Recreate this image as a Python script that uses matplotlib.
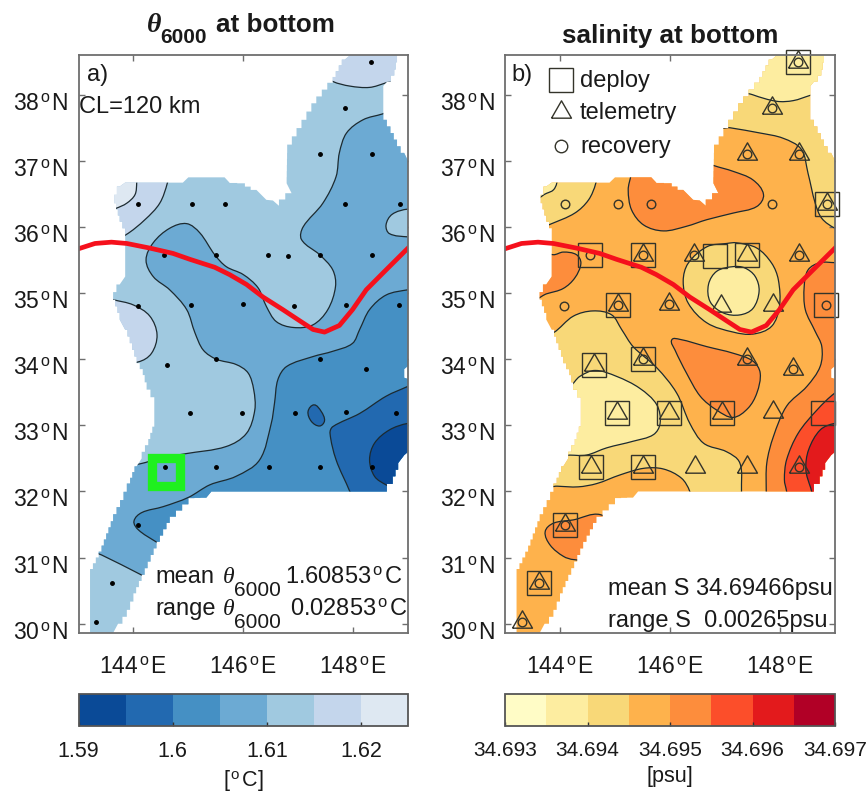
import matplotlib
matplotlib.use("Agg")
import matplotlib.pyplot as plt
import numpy as np
from matplotlib.cm import ScalarMappable
from matplotlib.colors import BoundaryNorm, ListedColormap
from matplotlib.patches import PathPatch, Polygon
from matplotlib.path import Path
from matplotlib.transforms import ScaledTranslation

plt.rcParams["font.family"] = ["Liberation Sans", "DejaVu Sans"]
plt.rcParams["mathtext.fontset"] = "custom"
plt.rcParams["mathtext.rm"] = "Liberation Sans"
plt.rcParams["mathtext.bf"] = "Liberation Sans:bold"
plt.rcParams["mathtext.it"] = "Liberation Serif:italic"

LON_TICKS = [144, 146, 148]
LAT_TICKS = [30, 31, 32, 33, 34, 35, 36, 37, 38]

THETA_LEVELS = [1.59, 1.595, 1.6, 1.605, 1.61, 1.615, 1.62, 1.625]
THETA_TICKS = [1.59, 1.6, 1.61, 1.62]
THETA_TICK_LABELS = ["1.59", "1.6", "1.61", "1.62"]
THETA_COLORS = ["#0a4a97", "#2269b0", "#4590c4", "#6caad3", "#a0c9e0", "#c4d6ec", "#dee8f2"]

SALT_LEVELS = [34.693, 34.6935, 34.694, 34.6945, 34.695, 34.6955, 34.696, 34.6965, 34.697]
SALT_TICKS = [34.693, 34.694, 34.695, 34.696, 34.697]
SALT_TICK_LABELS = ["34.693", "34.694", "34.695", "34.696", "34.697"]
SALT_COLORS = ["#fffcc6", "#fdeda0", "#f8d878", "#feb24c", "#fd8d3c", "#fc4e2a", "#e31a1c", "#b10026"]

FOOTPRINT = [
    (147.95, 38.6), (148.8, 38.6), (148.75, 38.38), (148.62, 38.2), (148.55, 38.13),
    (148.55, 37.72), (148.68, 37.52), (148.8, 37.32), (148.93, 37.12), (149, 37.0),
    (149, 33.9), (148.93, 33.85), (148.93, 33.72), (149, 33.7), (149, 32.6),
    (148.93, 32.55), (148.82, 32.43), (148.72, 32.23), (148.51, 32.0), (145.42, 32.0),
    (145.33, 31.91), (145.0, 31.9), (144.66, 31.62), (144.42, 31.24), (144.15, 30.74),
    (144.0, 30.46), (143.88, 30.21), (143.72, 30.0), (143.63, 29.86), (143.21, 29.86),
    (143.21, 30.74), (143.42, 31.09), (143.63, 31.55), (143.82, 31.87), (143.94, 32.12),
    (144.06, 32.38), (144.15, 32.5), (144.27, 32.7), (144.38, 32.98), (144.38, 33.31),
    (144.24, 33.54), (144.17, 33.76), (144.06, 33.94), (143.85, 34.445), (143.75, 34.6),
    (143.63, 34.9), (143.75, 35.13), (143.85, 35.25), (143.85, 35.88), (143.75, 36.08),
    (143.65, 36.36), (143.75, 36.61), (143.85, 36.67), (144.9, 36.67), (145.0, 36.75),
    (145.66, 36.75), (145.75, 36.67), (146.03, 36.66), (146.24, 36.56), (146.42, 36.41),
    (146.54, 36.4), (146.65, 36.32), (146.88, 36.51), (146.79, 36.66), (146.8, 37.12),
    (146.97, 37.37), (147.15, 37.62), (147.33, 37.87), (147.63, 38.18), (147.85, 38.53),
]

# float track
TRACK_LON = [143.0, 143.3, 143.6, 143.88, 144.3, 144.72, 145.03, 145.48, 145.75, 146.06,
             146.36, 146.72, 147.03, 147.27, 147.48, 147.75, 147.99, 148.24, 148.6, 149.0]
TRACK_LAT = [35.67, 35.75, 35.77, 35.75, 35.68, 35.6, 35.51, 35.39, 35.28, 35.13,
             34.94, 34.75, 34.58, 34.45, 34.41, 34.51, 34.75, 35.05, 35.35, 35.68]

STATIONS = [
    (148.33, 38.50), (147.86, 37.80), (147.40, 37.10), (148.34, 37.10), (144.09, 36.35),
    (145.06, 36.35), (145.66, 36.35), (147.86, 36.34), (148.85, 36.34), (144.55, 35.57),
    (145.51, 35.58), (146.445, 35.58), (146.81, 35.56), (147.40, 35.58), (148.35, 35.58),
    (144.08, 34.81), (145.05, 34.82), (145.99, 34.83), (146.92, 34.81), (147.87, 34.82),
    (148.83, 34.82), (144.62, 33.92), (145.51, 34.0), (147.40, 34.0), (148.24, 33.85),
    (145.03, 33.19), (145.98, 33.19), (146.94, 33.19), (147.87, 33.2), (148.78, 33.19),
    (144.57, 32.37), (145.51, 32.37), (146.46, 32.37), (147.40, 32.37), (148.34, 32.37),
    (144.09, 31.49), (143.61, 30.61), (143.31, 30.02),
]
DEPLOY = [0, 8, 9, 10, 12, 13, 16, 20, 21, 22, 25, 26, 27, 29, 30, 31, 35, 36]
TELEMETRY = [0, 1, 2, 3, 8, 10, 11, 13, 14, 16, 17, 18, 19, 21, 22, 23, 24, 25, 26, 27,
             28, 30, 31, 32, 33, 34, 35, 36, 37]
RECOVERY = [0, 1, 2, 3, 4, 5, 6, 7, 8, 9, 10, 11, 14, 15, 16, 17, 20, 22, 23, 24, 34, 35, 36, 37]
SELECTED_MOORING = (144.6, 32.295)

# theta contour bands, index into THETA_COLORS
THETA_BASE = 4
THETA_BANDS = [
    (5, [(147.63, 38.2), (147.94, 38.13), (148.3, 38.11), (148.6, 38.18), (149.2, 38.35),
         (149.2, 38.9), (147.5, 38.9), (147.2, 38.4)]),
    (5, [(144.66, 36.9), (144.62, 36.67), (144.48, 36.36), (144.21, 36.11), (143.86, 35.88),
         (143.4, 35.7), (143.4, 36.9)]),
    (5, [(143.4, 34.95), (143.63, 34.9), (144.0, 34.82), (144.3, 34.65), (144.43, 34.37),
         (144.33, 34.09), (144.09, 33.96), (143.4, 33.9)]),
    (6, [(144.06, 36.9), (144.06, 36.67), (144.03, 36.49), (143.88, 36.36), (143.68, 36.28),
         (143.4, 36.2), (143.4, 36.9)]),
    (3, [(148.66, 37.75), (148.54, 37.71), (148.18, 37.62), (147.88, 37.42), (147.75, 37.12),
         (147.69, 36.76), (147.45, 36.36), (147.09, 36.0), (147.06, 35.81), (147.39, 35.58),
         (147.63, 35.35), (147.68, 35.10), (147.54, 34.75), (147.27, 34.52), (146.91, 34.48),
         (146.6, 34.57), (146.42, 34.80), (146.27, 35.08), (146.0, 35.28), (145.69, 35.40),
         (145.48, 35.58), (145.21, 35.91), (144.97, 36.05), (144.66, 35.98), (144.36, 35.76),
         (144.23, 35.5), (144.36, 35.25), (144.66, 35.05), (144.97, 34.75), (145.12, 34.4),
         (145.27, 34.14), (145.51, 34.0), (145.87, 33.92), (146.09, 33.79), (146.19, 33.54),
         (146.21, 33.23), (146.06, 32.88), (145.69, 32.68), (144.94, 32.57), (144.48, 32.5),
         (144.06, 32.41), (143.57, 32.41), (143.09, 31.92), (143.09, 31.17), (143.42, 31.04),
         (144.14, 30.74), (144.66, 30.5), (149.5, 30.5), (149.5, 37.9)]),
    (4, [(149.3, 36.25), (149.0, 36.27), (148.71, 36.19), (148.6, 36.03), (148.66, 35.9),
         (149.0, 35.85), (149.3, 35.85)]),
    (2, [(149.27, 35.07), (149.0, 35.05), (148.6, 34.97), (148.3, 34.75), (148.12, 34.45),
         (147.99, 34.24), (147.63, 34.12), (147.27, 34.04), (146.79, 33.89), (146.63, 33.69),
         (146.57, 33.34), (146.51, 33.03), (146.3, 32.48), (145.87, 32.23), (145.39, 32.1),
         (145.0, 31.91), (144.54, 31.77), (144.15, 31.68), (144.01, 31.55), (144.09, 31.42),
         (144.41, 31.24), (144.66, 31.12), (149.5, 31.12), (149.5, 35.07)]),
    (1, [(149.27, 33.69), (149.0, 33.59), (148.6, 33.44), (148.12, 33.18), (147.63, 32.98),
         (147.58, 32.88), (147.69, 32.48), (147.94, 32.0), (148.06, 31.72), (149.5, 31.72),
         (149.5, 33.69)]),
    (1, [(147.29, 33.31), (147.18, 33.21), (147.24, 33.06), (147.39, 32.99), (147.48, 33.07),
         (147.42, 33.21)]),
    (0, [(149.3, 33.03), (149.0, 33.03), (148.66, 32.93), (148.39, 32.73), (148.3, 32.48),
         (148.39, 32.23), (148.6, 32.1), (148.91, 31.97), (149.5, 31.9), (149.5, 33.03)]),
]

# salinity contour bands, index into SALT_COLORS
SALT_BASE = 3
SALT_BANDS = [
    (2, [(146.85, 37.53), (147.09, 37.5), (147.64, 37.42), (148.06, 37.34), (148.39, 37.17),
         (148.51, 36.81), (148.64, 36.36), (148.76, 36.13), (149.0, 35.98), (149.33, 35.88),
         (149.58, 36.0), (149.58, 39.08), (146.79, 39.08)]),
    (1, [(147.15, 38.13), (147.5, 38.0), (147.94, 37.9), (148.24, 37.91), (148.55, 37.99),
         (148.91, 38.08), (148.91, 39.08), (147.15, 39.08)]),
    (2, [(144.68, 36.9), (144.65, 36.66), (144.52, 36.41), (144.27, 36.21), (143.82, 36.04),
         (143.4, 35.9), (143.4, 36.9)]),
    (1, [(143.96, 36.9), (143.94, 36.66), (143.88, 36.56), (143.76, 36.51), (143.4, 36.4),
         (143.4, 36.9)]),
    (4, [(146.73, 36.96), (146.79, 36.93), (147.15, 36.84), (147.51, 36.71), (147.7, 36.49),
         (147.58, 36.31), (147.15, 36.21), (146.67, 36.11), (146.3, 36.01), (145.88, 35.94),
         (145.52, 36.03), (145.3, 36.26), (145.24, 36.56), (145.29, 36.79), (145.3, 36.97)]),
    (4, [(143.4, 35.65), (143.88, 35.58), (144.06, 35.62), (144.3, 35.58), (144.38, 35.45),
         (144.27, 35.23), (144.06, 35.07), (143.76, 34.99), (143.4, 34.9)]),
    (2, [(147.03, 35.75), (146.67, 35.7), (146.33, 35.45), (146.24, 35.18), (146.33, 34.85),
         (146.67, 34.55), (147.15, 34.41), (147.51, 34.38), (147.85, 34.5), (147.99, 34.8),
         (147.97, 35.2), (147.85, 35.45), (147.58, 35.68), (147.21, 35.76)]),
    (1, [(147.15, 35.4), (146.85, 35.33), (146.7, 35.13), (146.73, 34.87), (146.97, 34.7),
         (147.27, 34.67), (147.51, 34.77), (147.62, 35.03), (147.55, 35.25), (147.36, 35.38)]),
    (4, [(149.33, 35.46), (149.0, 35.46), (148.73, 35.46), (148.51, 35.35), (148.44, 35.1),
         (148.46, 34.75), (148.64, 34.42), (148.76, 34.19), (148.73, 33.89), (148.49, 33.59),
         (148.12, 33.29), (147.88, 32.83), (147.76, 32.43), (147.75, 32.0), (147.76, 31.62),
         (149.58, 31.62), (149.58, 35.46)]),
    (5, [(149.33, 33.64), (149.0, 33.49), (148.67, 33.23), (148.33, 32.88), (148.12, 32.48),
         (148.08, 32.18), (148.12, 32.0), (148.18, 31.62), (149.58, 31.62), (149.58, 33.64)]),
    (6, [(149.3, 33.03), (149.0, 33.03), (148.73, 32.93), (148.52, 32.63), (148.47, 32.33),
         (148.56, 32.05), (148.67, 31.82), (149.58, 31.82), (149.58, 33.03)]),
    (4, [(146.03, 34.29), (146.18, 34.3), (146.67, 34.19), (147.15, 34.09), (147.51, 33.97),
         (147.64, 33.79), (147.58, 33.49), (147.42, 33.26), (147.15, 33.12), (146.85, 33.23),
         (146.55, 33.44), (146.3, 33.79), (146.09, 34.14)]),
    (2, [(143.51, 34.29), (143.88, 34.4), (144.24, 34.65), (144.6, 34.73), (144.94, 34.67),
         (145.12, 34.45), (145.33, 34.19), (145.76, 33.87), (146.12, 33.49), (146.36, 33.03),
         (146.61, 32.73), (147.03, 32.6), (147.27, 32.43), (147.3, 32.0), (147.3, 31.87),
         (146.36, 31.87), (146.36, 32.0), (146.21, 32.2), (145.88, 32.34), (145.52, 32.35),
         (145.09, 32.25), (144.67, 32.12), (144.33, 32.07), (143.95, 32.08), (143.51, 32.1)]),
    (1, [(144.0, 33.56), (144.18, 33.59), (144.36, 33.74), (144.64, 33.83), (145.03, 33.74),
         (145.45, 33.56), (145.76, 33.31), (145.82, 33.03), (145.7, 32.86), (145.33, 32.76),
         (144.85, 32.66), (144.48, 32.55), (144.18, 32.55), (143.82, 32.55), (143.82, 33.18)]),
    (4, [(144.73, 31.65), (144.24, 31.57), (143.88, 31.52), (143.73, 31.39), (143.82, 31.19),
         (144.06, 31.02), (144.25, 30.97), (144.73, 30.97), (144.97, 31.42)]),
]

FRAME_COLOR = "#6e6e6e"
TEXT_COLOR = "#1a1a1a"
TICK_SIZE = 16.5
NOTE_SIZE = 17
SUB_SIZE = 15
CBAR_SIZE = 15.5
TITLE_SIZE = 18.7
DEG = r"$^{\,\mathrm{o}\,}$"


def axes_at(fig, x0, y0, x1, y1):
    # pixel box of the 866x794 figure, y counted from the top
    return fig.add_axes([x0 / 866, 1 - y1 / 794, (x1 - x0) / 866, (y1 - y0) / 794])


def smooth_path(points):
    # closed bezier through the read points, handles scaled to each chord
    pts = np.array(points, dtype=float)
    n = len(pts)
    verts = [pts[0]]
    codes = [Path.MOVETO]
    for i in range(n):
        p0, p1 = pts[i], pts[(i + 1) % n]
        d0 = p1 - pts[i - 1]
        d1 = pts[(i + 2) % n] - p0
        chord = np.hypot(*(p1 - p0)) / 3
        verts += [p0 + d0 / np.hypot(*d0) * chord, p1 - d1 / np.hypot(*d1) * chord, p1]
        codes += [Path.CURVE4] * 3
    return Path(verts, codes)


def stair_outline(points):
    # the field is gridded, so its sloped edges are stepped
    out = []
    n = len(points)
    for i in range(n):
        x0, y0 = points[i]
        x1, y1 = points[(i + 1) % n]
        steps = int(max(abs(x1 - x0) / 0.1, abs(y1 - y0) / 0.085))
        out.append((x0, y0))
        if abs(x1 - x0) < 1e-6 or abs(y1 - y0) < 1e-6 or steps < 2:
            continue
        for k in range(steps):
            xa = x0 + (x1 - x0) * k / steps
            xb = x0 + (x1 - x0) * (k + 1) / steps
            ya = y0 + (y1 - y0) * (k + 1) / steps
            out.append((xa, ya))
            out.append((xb, ya))
    return out


def draw_bands(ax, base_color, colors, bands):
    foot = Polygon(stair_outline(FOOTPRINT), closed=True, fc=base_color, ec="none", zorder=1)
    ax.add_patch(foot)
    for i, (color_idx, points) in enumerate(bands):
        patch = PathPatch(smooth_path(points), fc=colors[color_idx], ec="#1c2a30", lw=0.9, zorder=2 + i * 0.01)
        ax.add_patch(patch)
        patch.set_clip_path(foot)


def setup_map(ax):
    ax.set_xlim(143, 149)
    ax.set_ylim(29.86, 38.6)
    ax.set_xticks(LON_TICKS)
    ax.set_yticks(LAT_TICKS)
    ax.set_xticklabels([f"{v}{DEG}E" for v in LON_TICKS])
    ax.set_yticklabels([f"{v}{DEG}N" for v in LAT_TICKS])
    ax.tick_params(direction="in", top=True, right=True, length=4.5, width=1, color=FRAME_COLOR,
                   labelsize=TICK_SIZE, labelcolor=TEXT_COLOR)
    ax.tick_params(axis="x", pad=16)
    ax.tick_params(axis="y", pad=7)
    shift = ScaledTranslation(0, -6 / 100, ax.figure.dpi_scale_trans)
    for label in ax.get_yticklabels():
        label.set_transform(label.get_transform() + shift)
    for spine in ax.spines.values():
        spine.set_color(FRAME_COLOR)
        spine.set_linewidth(1.3)
        spine.set_zorder(10)


def draw_track(ax):
    ax.plot(TRACK_LON, TRACK_LAT, color="#f5101c", lw=3.4, zorder=8, solid_joinstyle="round")


def setup_colorbar(fig, cax, levels, colors, ticks, tick_labels, size):
    norm = BoundaryNorm(levels, len(colors))
    cb = fig.colorbar(ScalarMappable(norm=norm, cmap=ListedColormap(colors)), cax=cax,
                      orientation="horizontal", spacing="proportional", drawedges=False)
    cb.set_ticks(ticks)
    cb.set_ticklabels(tick_labels)
    cb.minorticks_off()
    cax.tick_params(direction="in", length=3, width=1, color="#333333", labelsize=size,
                    labelcolor=TEXT_COLOR, pad=11)
    cb.outline.set_edgecolor("#555555")
    cb.outline.set_linewidth(1.3)
    return cb


def note(ax, x, y, text, size=NOTE_SIZE, **kwargs):
    ax.text(x, y, text, transform=ax.transAxes, fontsize=size, va="baseline", color=TEXT_COLOR, **kwargs)


def main():
    fig = plt.figure(figsize=(8.66, 7.94), dpi=100)

    # theta panel
    ax_a = axes_at(fig, 78.5, 55, 408, 633)
    draw_bands(ax_a, THETA_COLORS[THETA_BASE], THETA_COLORS, THETA_BANDS)
    ax_a.plot([s[0] for s in STATIONS], [s[1] for s in STATIONS], "o", color="black", ms=2.5, zorder=5)
    ax_a.plot(*SELECTED_MOORING, "s", mfc="none", mec="#1ff01f", mew=6.7, ms=20, zorder=7)
    draw_track(ax_a)
    setup_map(ax_a)
    # title pieces set apart, the subscript hangs lower than mathtext puts it
    note(ax_a, 0.208, 1.0398, "\u03b8", size=20, family="Liberation Serif", style="italic", fontweight="bold")
    note(ax_a, 0.2473, 1.0208, "6000", size=SUB_SIZE, fontweight="bold")
    note(ax_a, 0.4173, 1.0398, "at bottom", size=TITLE_SIZE, fontweight="bold")
    note(ax_a, 0.025, 0.955, "a)")
    note(ax_a, 0.003, 0.9, "CL=120 km")
    note(ax_a, 0.232, 0.0865, "mean")
    note(ax_a, 0.4376, 0.0865, "\u03b8", family="Liberation Serif", style="italic")
    note(ax_a, 0.472, 0.064, "6000", size=SUB_SIZE)
    note(ax_a, 0.6267, 0.0865, f"1.60853{DEG}C")
    note(ax_a, 0.232, 0.0311, "range")
    note(ax_a, 0.4376, 0.0311, "\u03b8", family="Liberation Serif", style="italic")
    note(ax_a, 0.472, 0.0087, "6000", size=SUB_SIZE)
    note(ax_a, 0.642, 0.0311, f"0.02853{DEG}C")

    # salinity panel
    ax_b = axes_at(fig, 505, 55, 835, 633)
    draw_bands(ax_b, SALT_COLORS[SALT_BASE], SALT_COLORS, SALT_BANDS)
    tri = [(-10, -5.7), (10, -5.7), (0, 11.7), (-10, -5.7)]
    mark = dict(ls="none", mfc="none", mec="#34342a", mew=1.0, zorder=6)
    ax_b.plot([STATIONS[i][0] for i in DEPLOY], [STATIONS[i][1] for i in DEPLOY], marker="s", ms=17.3, **mark)
    ax_b.plot([STATIONS[i][0] for i in TELEMETRY], [STATIONS[i][1] for i in TELEMETRY], marker=tri, ms=16.8, **mark)
    ax_b.plot([STATIONS[i][0] for i in RECOVERY], [STATIONS[i][1] for i in RECOVERY], marker="o", ms=6.2, **mark)
    for line in ax_b.lines:
        line.set_clip_on(False)
    draw_track(ax_b)
    setup_map(ax_b)
    ax_b.set_title("salinity at bottom", fontsize=TITLE_SIZE, fontweight="bold", color=TEXT_COLOR, pad=9)
    note(ax_b, 0.02, 0.955, "b)")
    for y, marker, ms, label in [(0.957, "s", 17.3, "deploy"), (0.901, tri, 16.8, "telemetry"),
                                 (0.8426, "o", 9, "recovery")]:
        ax_b.plot(0.17, y, marker=marker, ms=ms, transform=ax_b.transAxes, **mark)
        note(ax_b, 0.227, y - 0.0125, label)
    note(ax_b, 0.312, 0.0657, "mean S 34.69466psu")
    note(ax_b, 0.312, 0.0109, "range S  0.00265psu")

    # colorbars
    cax_a = axes_at(fig, 78.5, 694, 408, 726)
    cb_a = setup_colorbar(fig, cax_a, THETA_LEVELS, THETA_COLORS, THETA_TICKS, THETA_TICK_LABELS, CBAR_SIZE)
    cb_a.set_label(f"[{DEG}C]", fontsize=CBAR_SIZE, color=TEXT_COLOR, labelpad=4)

    cax_b = axes_at(fig, 505, 694, 835, 726)
    cb_b = setup_colorbar(fig, cax_b, SALT_LEVELS, SALT_COLORS, SALT_TICKS, SALT_TICK_LABELS, 15)
    cb_b.set_label("[psu]", fontsize=CBAR_SIZE, color=TEXT_COLOR, labelpad=4)

    fig.savefig("out.png", dpi=100)


if __name__ == "__main__":
    main()
